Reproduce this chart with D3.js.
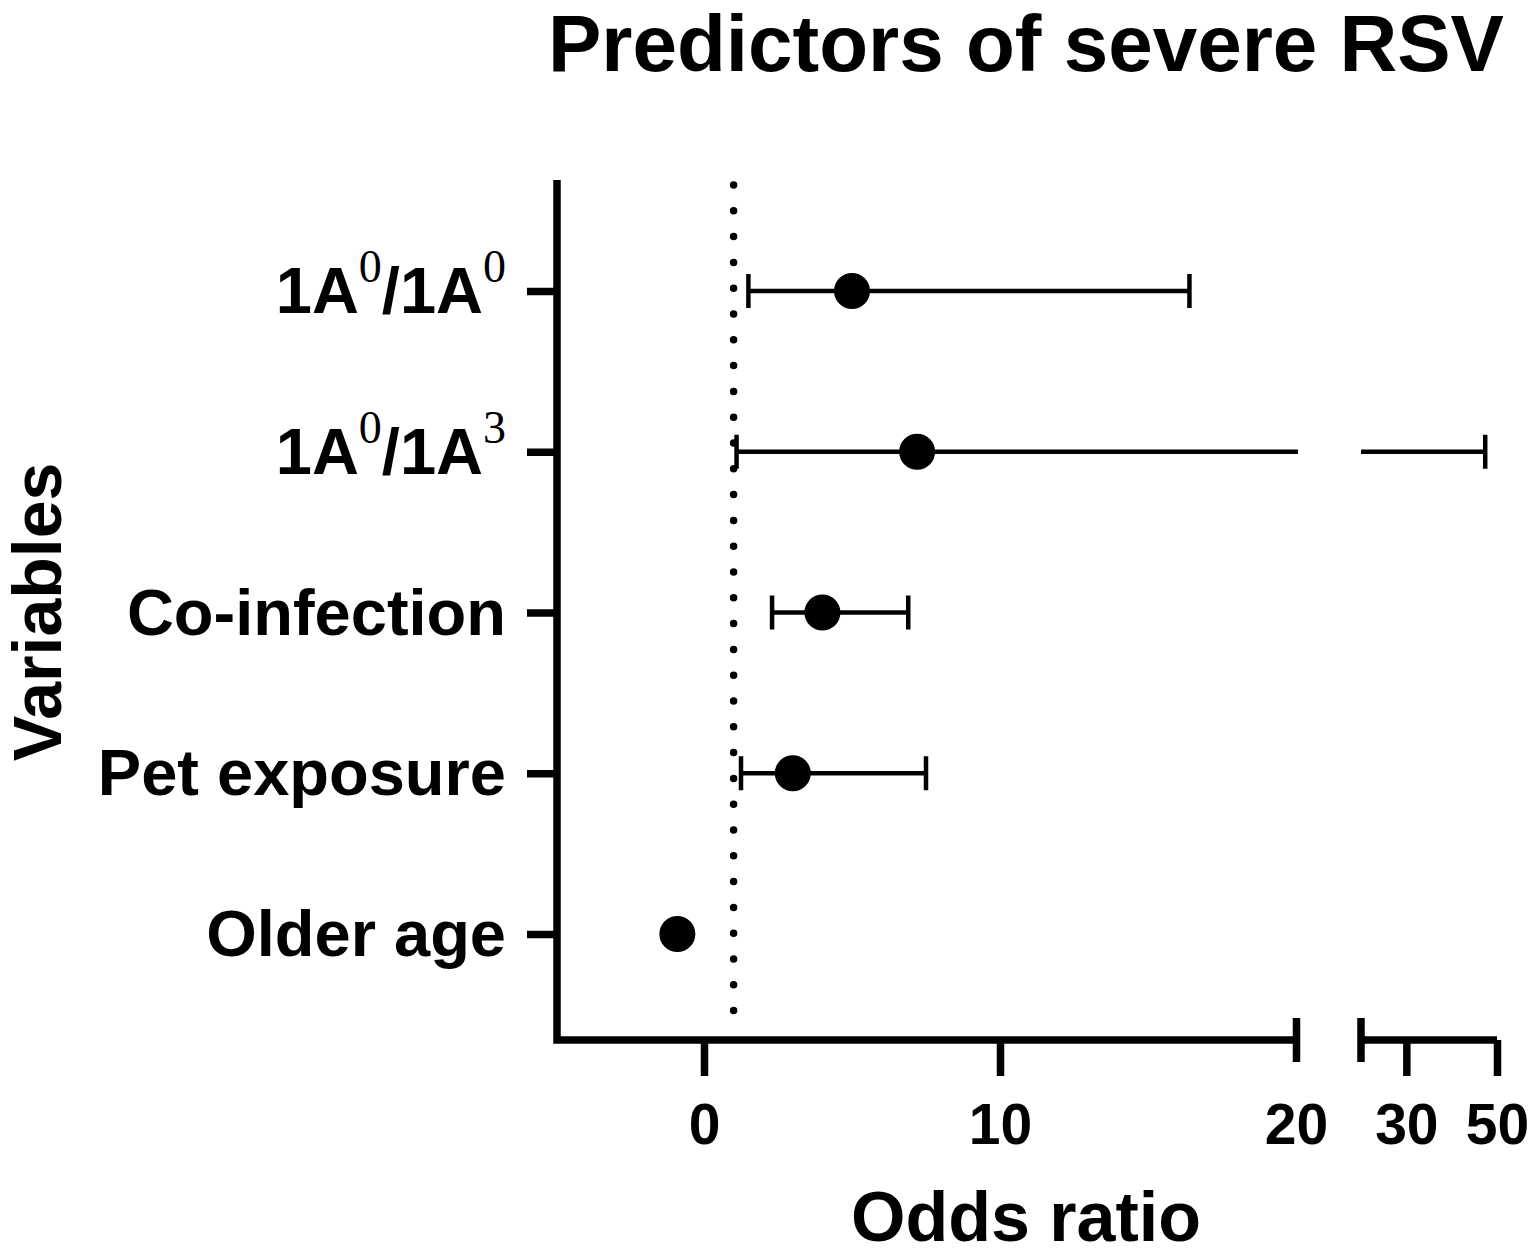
<!DOCTYPE html>
<html>
<head>
<meta charset="utf-8">
<script src="https://cdn.jsdelivr.net/npm/d3@7"></script>
<style>
  body { margin: 0; background: #fff; }
  text { font-family: "Liberation Sans", Arial, sans-serif; font-weight: bold; fill: #000; }
</style>
</head>
<body>
<svg width="1535" height="1257"></svg>
<script>
// data
const variables = ["1A0/1A0", "1A0/1A3", "Co-infection", "Pet exposure", "Older age"];
const labelMain = [["1A", "/1A"], ["1A", "/1A"], ["Co-infection"], ["Pet exposure"], ["Older age"]];
const labelSup = [["0", "0"], ["0", "3"], [], [], []];
const oddsRatio = [5.0, 7.2, 4.0, 3.0, -0.9];
const ciLow = [1.5, 1.1, 2.3, 1.25, null];
const ciHigh = [16.4, 47.4, 6.9, 7.5, null];
const ticksLeft = [0, 10, 20];
const ticksRight = [30, 50];
const refLine = 1;

const svg = d3.select("svg");

// broken x axis: two linear segments
const xL = d3.scaleLinear().domain([-5, 20]).range([556, 1296]);
const xR = d3.scaleLinear().domain([20, 50]).range([1361, 1497]);
const x = v => v <= 20 ? xL(v) : xR(v);

const y = d3.scalePoint().domain(variables).range([291, 934]);

const axisY = 1040, axisX = 557, lw = 7.5;

// title
svg.append("text")
  .attr("x", 1026).attr("y", 71)
  .attr("text-anchor", "middle")
  .style("font-size", "80px")
  .text("Predictors of severe RSV");

// reference line at OR = 1
svg.append("line")
  .attr("x1", x(refLine)).attr("x2", x(refLine))
  .attr("y1", 185).attr("y2", 1034)
  .attr("stroke", "#000")
  .attr("stroke-width", 7.5)
  .attr("stroke-linecap", "round")
  .attr("stroke-dasharray", "0 25.8");

// frame: y axis line + left x segment
svg.append("path")
  .attr("d", `M${axisX},180 V${axisY} H${xL(20)}`)
  .attr("fill", "none")
  .attr("stroke", "#000")
  .attr("stroke-width", lw);

// left x axis ticks
const gxL = svg.append("g")
  .attr("transform", `translate(0,${axisY})`)
  .call(d3.axisBottom(xL).tickValues(ticksLeft).tickSize(36).tickSizeOuter(0).tickPadding(28));
gxL.select(".domain").remove();
gxL.selectAll(".tick line").attr("stroke", "#000").attr("stroke-width", lw)
  .filter(d => d === 20).attr("y1", -22).attr("y2", 22);
gxL.selectAll(".tick text").style("font-size", "57px")
  .style("font-family", "'Liberation Sans', Arial, sans-serif").style("font-weight", "bold");

// right x axis segment
svg.append("path")
  .attr("d", `M${xR(20)},${axisY - 22} V${axisY + 22} M${xR(20)},${axisY} H${xR(50)}`)
  .attr("fill", "none")
  .attr("stroke", "#000")
  .attr("stroke-width", lw);
const gxR = svg.append("g")
  .attr("transform", `translate(0,${axisY})`)
  .call(d3.axisBottom(xR).tickValues(ticksRight).tickSize(36).tickSizeOuter(0).tickPadding(28));
gxR.select(".domain").remove();
gxR.selectAll(".tick line").attr("stroke", "#000").attr("stroke-width", lw);
gxR.selectAll(".tick text").style("font-size", "57px")
  .style("font-family", "'Liberation Sans', Arial, sans-serif").style("font-weight", "bold");

// y axis ticks
const gy = svg.append("g")
  .attr("transform", `translate(${axisX},0)`)
  .call(d3.axisLeft(y).tickSize(30).tickSizeOuter(0).tickFormat(""));
gy.select(".domain").remove();
gy.selectAll(".tick line").attr("stroke", "#000").attr("stroke-width", lw);

// y labels with superscripts
variables.forEach((v, i) => {
  const t = svg.append("text")
    .attr("x", 506).attr("y", y(v) + 22)
    .attr("text-anchor", "end")
    .style("font-size", "65px");
  labelMain[i].forEach((part, j) => {
    t.append("tspan").attr("dy", j === 0 ? 0 : 31).text(part);
    if (labelSup[i][j] !== undefined) {
      t.append("tspan")
        .attr("dy", -31)
        .style("font-family", "'Liberation Serif', 'Times New Roman', serif")
        .style("font-weight", "normal")
        .style("font-size", "46px")
        .text(labelSup[i][j]);
    }
  });
});

// axis titles
svg.append("text")
  .attr("x", 1026).attr("y", 1241)
  .attr("text-anchor", "middle")
  .style("font-size", "70px")
  .text("Odds ratio");

svg.append("text")
  .attr("transform", "translate(61,612) rotate(-90)")
  .attr("text-anchor", "middle")
  .style("font-size", "68px")
  .text("Variables");

// error bars
const rows = variables.map((v, i) => ({ v, or: oddsRatio[i], lo: ciLow[i], hi: ciHigh[i] }));
const eb = svg.append("g").attr("stroke", "#000").attr("stroke-width", 4.5).attr("fill", "none");
rows.filter(d => d.lo !== null).forEach(d => {
  const cy = y(d.v);
  if (d.hi <= 20) {
    eb.append("line").attr("x1", x(d.lo)).attr("x2", x(d.hi)).attr("y1", cy).attr("y2", cy);
  } else {
    eb.append("line").attr("x1", x(d.lo)).attr("x2", xL(20) + 2).attr("y1", cy).attr("y2", cy);
    eb.append("line").attr("x1", xR(20)).attr("x2", xR(d.hi)).attr("y1", cy).attr("y2", cy);
  }
  [d.lo, d.hi].forEach(c => {
    eb.append("line").attr("x1", x(c)).attr("x2", x(c))
      .attr("y1", cy - 17).attr("y2", cy + 17);
  });
});

// point estimates
svg.append("g")
  .selectAll("circle")
  .data(rows)
  .join("circle")
    .attr("cx", d => x(d.or))
    .attr("cy", d => y(d.v))
    .attr("r", 18)
    .attr("fill", "#000");
</script>
</body>
</html>
